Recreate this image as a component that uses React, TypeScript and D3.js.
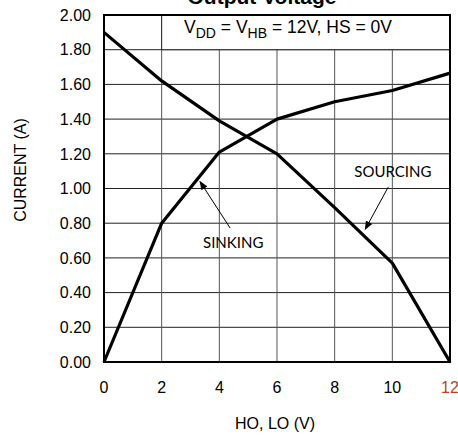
import React from "react";
import * as d3 from "d3";

// values
const voltage = [0, 2, 4, 6, 8, 10, 12];
const sourcing = [1.9, 1.62, 1.39, 1.2, 0.89, 0.57, 0];
const sinking = [0, 0.8, 1.21, 1.4, 1.5, 1.565, 1.665];
const xTicks = [0, 2, 4, 6, 8, 10, 12];
const yTicks = [0, 0.2, 0.4, 0.6, 0.8, 1.0, 1.2, 1.4, 1.6, 1.8, 2.0];

const W = 458;
const H = 437;
const margin = { top: 15, right: 8, bottom: 75, left: 104 };

export default function App() {
  const x = d3.scaleLinear().domain([0, 12]).range([margin.left, W - margin.right]);
  const y = d3.scaleLinear().domain([0, 2]).range([H - margin.bottom, margin.top]);

  const line = d3
    .line<number>()
    .x((_, i) => x(voltage[i]))
    .y((d) => y(d));

  const arial = "'Liberation Sans', Arial, sans-serif";
  const calib = "Lato, 'Open Sans', sans-serif";

  return (
    <svg
      width={W}
      height={H}
      style={{ position: "absolute", left: 0, top: 0, background: "#fff" }}
    >
      <defs>
        <marker id="arr" viewBox="0 0 10 10" refX="9" refY="5" markerWidth="9" markerHeight="9" orient="auto-start-reverse" markerUnits="userSpaceOnUse">
          <path d="M0,1 L10,5 L0,9 z" fill="#000" />
        </marker>
      </defs>

      {/* title, cut off at the top like the original */}
      <text x={262} y={3.5} textAnchor="middle" fontFamily={arial} fontWeight="bold" fontSize={21}>
        Output Voltage
      </text>

      {/* grid */}
      {yTicks.slice(1, -1).map((t) => (
        <line key={"h" + t} x1={x(0)} x2={x(12)} y1={y(t)} y2={y(t)} stroke="#222" strokeWidth={1} />
      ))}
      {xTicks.slice(1, -1).map((t) => (
        <line key={"v" + t} x1={x(t)} x2={x(t)} y1={y(0)} y2={y(2)} stroke="#555" strokeWidth={1} />
      ))}

      {/* condition box */}
      <rect x={x(2)} y={y(2)} width={x(12) - x(2)} height={y(1.8) - y(2)} fill="#fff" stroke="#222" strokeWidth={1} />
      <text x={288} y={33} textAnchor="middle" fontFamily={arial} fontSize={17.5}>
        V<tspan fontSize={14} dy={5}>DD</tspan>
        <tspan dy={-5}> = V</tspan>
        <tspan fontSize={14} dy={5}>HB</tspan>
        <tspan dy={-5}> = 12V, HS = 0V</tspan>
      </text>

      {/* frame */}
      <rect x={x(0)} y={y(2)} width={x(12) - x(0)} height={y(0) - y(2)} fill="none" stroke="#000" strokeWidth={2} />

      {/* curves */}
      <path d={line(sourcing) ?? ""} fill="none" stroke="#000" strokeWidth={3.2} strokeLinejoin="round" />
      <path d={line(sinking) ?? ""} fill="none" stroke="#000" strokeWidth={3.2} strokeLinejoin="round" />

      {/* annotations */}
      <text x={x(4.48)} y={y(0.657)} textAnchor="middle" fontFamily={calib} fontSize={15}>
        SINKING
      </text>
      <line x1={x(4.375)} y1={y(0.772)} x2={x(3.33)} y2={y(1.04)} stroke="#000" strokeWidth={1} markerEnd="url(#arr)" />
      <text x={x(10.02)} y={y(1.066)} textAnchor="middle" fontFamily={calib} fontSize={15}>
        SOURCING
      </text>
      <line x1={x(9.86)} y1={y(1.009)} x2={x(9.06)} y2={y(0.765)} stroke="#000" strokeWidth={1} markerEnd="url(#arr)" />

      {/* y tick labels */}
      {yTicks.map((t) => (
        <text key={"yl" + t} x={91} y={y(t)} dy="0.36em" textAnchor="end" fontFamily={arial} fontSize={16}>
          {t.toFixed(2)}
        </text>
      ))}
      {/* x tick labels */}
      {xTicks.map((t) => (
        <text key={"xl" + t} x={x(t)} y={393} textAnchor="middle" fontFamily={arial} fontSize={16} fill={t === 12 ? "#B5471B" : "#000"}>
          {t}
        </text>
      ))}

      {/* axis titles */}
      <text x={275} y={429} textAnchor="middle" fontFamily={arial} fontSize={16}>
        HO, LO (V)
      </text>
      <text transform={`translate(26,170) rotate(-90)`} textAnchor="middle" fontFamily={arial} fontSize={16}>
        CURRENT (A)
      </text>
    </svg>
  );
}
